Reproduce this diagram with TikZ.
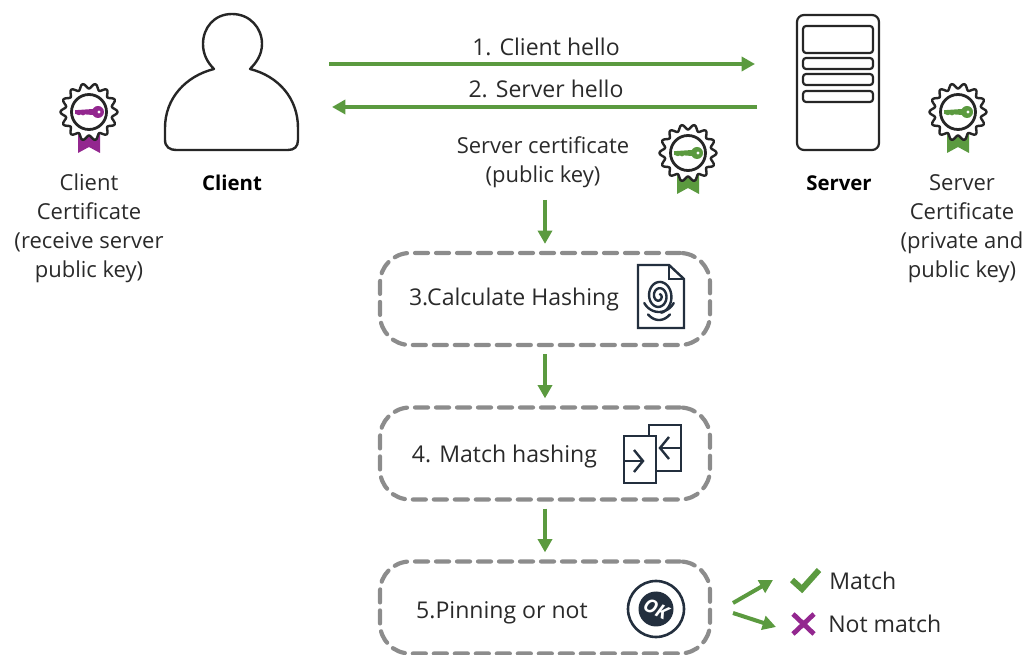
\documentclass[tikz,border=0pt]{standalone}
\usepackage{fontspec}
\setmainfont{Open Sans}
\usetikzlibrary{arrows.meta,shapes.geometric,calc}
\definecolor{flowgreen}{HTML}{5B9A3F}
\definecolor{plum}{HTML}{93278F}
\definecolor{navy}{HTML}{232F3E}
\definecolor{dashgray}{HTML}{8C8C8C}
\definecolor{inktext}{HTML}{2A2A2A}
\tikzset{
  lab/.style={font=\fontsize{16.5pt}{21.75pt}\selectfont,text=inktext,align=center,inner sep=0pt},
  labbig/.style={font=\fontsize{17.3pt}{21.75pt}\selectfont,text=inktext,align=center,inner sep=0pt},
  strong/.style={font=\fontsize{15.3pt}{21.75pt}\selectfont\bfseries,text=black,inner sep=0pt},
  flow/.style={draw=flowgreen,line width=3pt,-{Triangle[length=10pt,width=10.5pt]}},
  stepbox/.style={draw=dashgray,line width=3.15pt,rounded corners=22.5pt,minimum width=247.5pt,minimum height=69pt,
     dash pattern=on 9.75pt off 6pt,line cap=round,inner sep=0pt},
  outline/.style={draw=black!85,line width=1.65pt,line join=round},
  icon/.style={draw=navy,line width=1.8pt,line join=miter},
}
\newcommand{\badge}[3]{%
 \begin{scope}[shift={(#1,#2)}]
  \fill[#3] (-11,22) -- (-11,41) -- (0,35) -- (11,41) -- (11,22) -- cycle;
  \draw[black!85,line width=1.8pt,fill=white,line join=round] plot[domain=0:360,samples=113,smooth] (\x:{26+2.6*cos(14*\x)}) -- cycle;
  \draw[black!85,line width=2.1pt] (0,0) circle (17.5);
  \fill[#3] (-14,-1.8) -- (4,-3) -- (4,3) -- (-4,2.4) -- (-6,3.4) -- (-8,2.4) -- (-10,3.2) -- (-14,1.8) -- cycle;
  \fill[#3] (9,0) circle (6);
  \fill[white] (10,0) circle (1.6);
 \end{scope}}
\begin{document}
\begin{tikzpicture}[x=0.75pt,y=-0.75pt]
\useasboundingbox (0,0) rectangle (1025,655);
% client silhouette
\draw[outline,fill=white,line width=1.8pt] (232,14) .. controls (250,14) and (262,28) .. (262,44) .. controls (262,55) and (256,63) .. (250,69)
 .. controls (278,76) and (298,98) .. (298,128) -- (298,140) .. controls (298,147) and (294,150) .. (288,150) -- (176,150)
 .. controls (170,150) and (165,147) .. (165,140) -- (165,128) .. controls (165,98) and (186,76) .. (214,69)
 .. controls (208,63) and (203,55) .. (203,44) .. controls (203,28) and (214,14) .. (232,14) -- cycle;
\node[minimum width=99.75pt,minimum height=102pt,inner sep=0pt,outer sep=0pt] (clientbox) at (231.5,82) {};
% server
\node[outline,rounded corners=5.25pt,minimum width=61.5pt,minimum height=101.25pt,inner sep=0pt,outer sep=0pt] (serverbox) at (838,82.5) {};
\draw[outline,rounded corners=2.25pt] (803,26) rectangle (873,53);
\draw[outline,rounded corners=2.25pt] (803,58) rectangle (873,69);
\draw[outline,rounded corners=2.25pt] (803,74) rectangle (873,85);
\draw[outline,rounded corners=2.25pt] (803,91) rectangle (873,102);
% labels
\node[strong] (clientname) at (232,183) {Client};
\node[strong] (servername) at (839,183) {Server};
\node[lab] (clientcert) at (89,228) {Client\\Certificate\\(receive server\\public key)};
\node[lab] (servercert) at (962,229) {Server\\Certificate\\(private and\\public key)};
\node[labbig] (hello1) at (546,47) {1. Client hello};
\node[labbig] (hello2) at (546,89) {2. Server hello};
\node[lab] (certtext) at (543,162) {Server certificate\\(public key)};
% badges
\badge{89}{112}{plum}
\badge{688}{153}{flowgreen}
\badge{958}{112}{flowgreen}
% hello arrows
\coordinate (h1) at (545,64);
\coordinate (h2) at (545,107);
\draw[flow,shorten <=23.25pt,shorten >=31.5pt] (clientbox.east |- h1) -- (serverbox.west |- h1);
\draw[flow,shorten <=30pt,shorten >=25.5pt] (serverbox.west |- h2) -- (clientbox.east |- h2);
% step boxes
\node[stepbox] (box3) at (545,299) {};
\node[stepbox] (box4) at (545,453.5) {};
\node[stepbox] (box5) at (545,607.5) {};
\node[labbig] (t3) at (514,299.5) {3.Calculate Hashing};
\node[labbig] (t4) at (504.5,457) {4. Match hashing};
\node[labbig] (t5) at (502,613) {5.Pinning or not};
\coordinate (certfoot) at (545,190);
\draw[flow,shorten <=7.5pt,shorten >=5.25pt] (certfoot) -- (box3.north);
\draw[flow,shorten <=5.25pt,shorten >=5.25pt] (box3.south) -- (box4.north);
\draw[flow,shorten <=5.25pt,shorten >=5.25pt] (box4.south) -- (box5.north);
% fingerprint document
\draw[icon] (669,265) -- (638,265) -- (638,328) -- (684,328) -- (684,279) -- cycle;
\draw[icon] (669,265) -- (669,279) -- (684,279);
\draw[icon,line cap=round] plot[domain=-60:800,samples=90,smooth] ({659+(2.5+\x/800*11)*cos(\x)},{296+(3+\x/800*14)*sin(\x)});
\draw[icon,line cap=round] plot[domain=30:150,samples=20,smooth] ({659+17*cos(\x)},{294+18*sin(\x)});
\draw[icon,line cap=round] plot[domain=50:130,samples=20,smooth] ({659+17*cos(\x)},{296+24*sin(\x)});
% compare documents
\draw[icon] (649,436) -- (649,425) -- (681,425) -- (681,471) -- (656,471);
\draw[icon] (624,436) rectangle (656,483);
\draw[icon] (624,461) -- (643,461);
\draw[icon] (634,450) -- (643,461) -- (634,472);
\draw[icon] (681,448) -- (660,448);
\draw[icon] (669,437) -- (660,448) -- (669,459);
% ok badge
\draw[navy,line width=1.95pt] (656,609) circle (28);
\fill[navy] (656,609) circle (17.5);
\node[rotate=-25,text=white,inner sep=0pt,font=\fontsize{14pt}{14pt}\selectfont\bfseries\itshape] (okmark) at (656,609) {OK};
% outcome arrows
\coordinate (matchhead) at (773,580);
\coordinate (nothead) at (776,627);
\coordinate (outa) at (733,603);
\coordinate (outb) at (733,613);
\draw[flow] (outa) -- (matchhead);
\draw[flow] (outb) -- (nothead);
\draw[flowgreen,line width=4.5pt,line cap=butt,line join=miter] (792,580) -- (802,589) -- (819,570);
\draw[plum,line width=3.6pt] (793,614) -- (814,634) (814,614) -- (793,634);
\node[labbig,anchor=west] (tmatch) at (829,581) {Match};
\node[labbig,anchor=west] (tnot) at (828,624) {Not match};
\end{tikzpicture}
\end{document}
